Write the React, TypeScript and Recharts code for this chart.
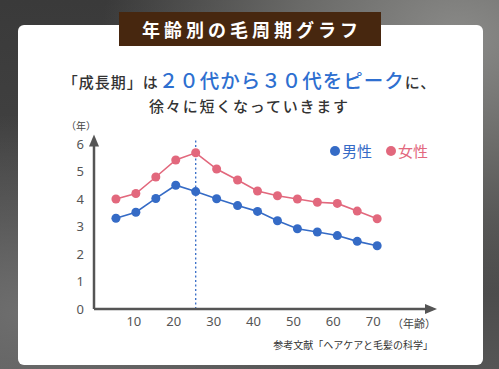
import React from "react";
import { LineChart, Line, XAxis, YAxis, ReferenceLine, ReferenceDot } from "recharts";

const ages = [5.5, 10.5, 15.5, 20.5, 25.5, 30.75, 36, 41, 46, 51, 56, 61, 66, 71];
const male = [3.3, 3.52, 4.02, 4.5, 4.27, 4.01, 3.76, 3.55, 3.21, 2.92, 2.8, 2.67, 2.46, 2.3];
const female = [4.0, 4.2, 4.8, 5.42, 5.68, 5.09, 4.69, 4.29, 4.12, 4.0, 3.88, 3.84, 3.56, 3.28];
const xTicks = [10, 20, 30, 40, 50, 60, 70];
const yTicks = [0, 1, 2, 3, 4, 5, 6];
const peakAge = 25.5;
const seriesNames = { male: "男性", female: "女性" };

const data = ages.map((a, i) => ({ age: a, male: male[i], female: female[i] }));

const BLUE = "#356bc6";
const PINK = "#e2687d";
const AXIS = "#555555";
const FONT = '"Noto Sans CJK JP", "Noto Sans", sans-serif';

const ArrowRight = (props: any) => {
  const { cx, cy } = props;
  return <path d={`M${cx + 4},${cy} L${cx - 8},${cy - 5} L${cx - 8},${cy + 5} Z`} fill={AXIS} />;
};
const ArrowUp = (props: any) => {
  const { cx, cy } = props;
  return <path d={`M${cx},${cy - 4} L${cx - 5},${cy + 8} L${cx + 5},${cy + 8} Z`} fill={AXIS} />;
};

const LegendItem = ({ color, label }: { color: string; label: string }) => (
  <span style={{ color, display: "flex", alignItems: "center" }}>
    <span style={{ width: 10, height: 10, borderRadius: 5, background: color, display: "inline-block", marginRight: 2 }} />
    {label}
  </span>
);

export default function App() {
  return (
    <div style={{ position: "absolute", left: 0, top: 0, width: 499, height: 369, overflow: "hidden", fontFamily: FONT }}>
      <div
        style={{
          position: "absolute",
          inset: 0,
          background:
            "radial-gradient(ellipse at 92% 10%, #8a8a88 0%, #6a6a68 25%, rgba(0,0,0,0) 55%), radial-gradient(ellipse at 5% 85%, #6e6e6e 0%, rgba(0,0,0,0) 45%), linear-gradient(180deg, #3a3a3a 0%, #444 60%, #555 100%)",
        }}
      />
      <div style={{ position: "absolute", left: 18, top: 25, width: 465, height: 340, background: "#fff", borderRadius: 6 }} />
      <div
        style={{
          position: "absolute",
          left: 119,
          top: 12,
          width: 262,
          height: 34,
          background: "#47270f",
          color: "#fff",
          fontWeight: 700,
          fontSize: 18,
          letterSpacing: 4,
          display: "flex",
          alignItems: "center",
          justifyContent: "center",
          paddingLeft: 4,
          boxSizing: "border-box",
        }}
      >
        年齢別の毛周期グラフ
      </div>
      <div
        style={{
          position: "absolute",
          left: 0,
          top: 66,
          width: 499,
          textAlign: "center",
          color: "#333",
          fontWeight: 500,
          lineHeight: "28px",
          whiteSpace: "nowrap",
        }}
      >
        <span style={{ fontSize: 15, letterSpacing: 1 }}>「成長期」は</span>
        <span style={{ fontSize: 19.5, letterSpacing: 1, color: "#2e6fd0" }}>２０代から３０代をピーク</span>
        <span style={{ fontSize: 15, letterSpacing: 1 }}>に、</span>
      </div>
      <div
        style={{
          position: "absolute",
          left: 0,
          top: 95,
          width: 499,
          textAlign: "center",
          color: "#333",
          fontWeight: 500,
          fontSize: 15,
          letterSpacing: 1.8,
          lineHeight: "22px",
        }}
      >
        徐々に短くなっていきます
      </div>
      <div style={{ position: "absolute", left: 66, top: 118, fontSize: 10, color: "#444" }}>（年）</div>
      <div style={{ position: "absolute", left: 392, top: 315, fontSize: 11, color: "#444" }}>（年齢）</div>
      <div style={{ position: "absolute", right: 66, top: 337, fontSize: 10, color: "#333" }}>参考文献「ヘアケアと毛髪の科学」</div>
      <div style={{ position: "absolute", left: 0, top: 0 }}>
        <LineChart width={499} height={369} data={data} margin={{ top: 138.5, right: 66, bottom: 30, left: 64 }}>
          <XAxis
            dataKey="age"
            type="number"
            domain={[0, 85]}
            ticks={xTicks}
            allowDataOverflow
            height={30}
            tickLine={false}
            tickSize={0}
            tickMargin={8}
            axisLine={{ stroke: AXIS, strokeWidth: 2.5 }}
            tick={{ fill: "#555", fontSize: 13, fontFamily: '"Noto Sans", sans-serif' }}
          />
          <YAxis
            type="number"
            domain={[0, 6.2]}
            ticks={yTicks}
            allowDataOverflow
            width={30}
            tickLine={false}
            tickSize={0}
            tickMargin={10}
            axisLine={{ stroke: AXIS, strokeWidth: 2.5 }}
            tick={{ fill: "#555", fontSize: 13, fontFamily: '"Noto Sans", sans-serif' }}
          />
          <ReferenceLine x={peakAge} stroke={BLUE} strokeWidth={1.3} strokeDasharray="2 2.5" />
          <Line
            dataKey="female"
            name={seriesNames.female}
            stroke={PINK}
            strokeWidth={1.6}
            dot={{ r: 4.5, fill: PINK, stroke: PINK, strokeWidth: 0 }}
            activeDot={false}
            isAnimationActive={false}
          />
          <Line
            dataKey="male"
            name={seriesNames.male}
            stroke={BLUE}
            strokeWidth={1.6}
            dot={{ r: 4.5, fill: BLUE, stroke: BLUE, strokeWidth: 0 }}
            activeDot={false}
            isAnimationActive={false}
          />
          <ReferenceDot x={85} y={0} ifOverflow="visible" shape={ArrowRight} />
          <ReferenceDot x={0} y={6.2} ifOverflow="visible" shape={ArrowUp} />
        </LineChart>
      </div>
      <div style={{ position: "absolute", left: 330, top: 140, display: "flex", fontSize: 15, gap: 14 }}>
        <LegendItem color={BLUE} label={seriesNames.male} />
        <LegendItem color={PINK} label={seriesNames.female} />
      </div>
    </div>
  );
}
